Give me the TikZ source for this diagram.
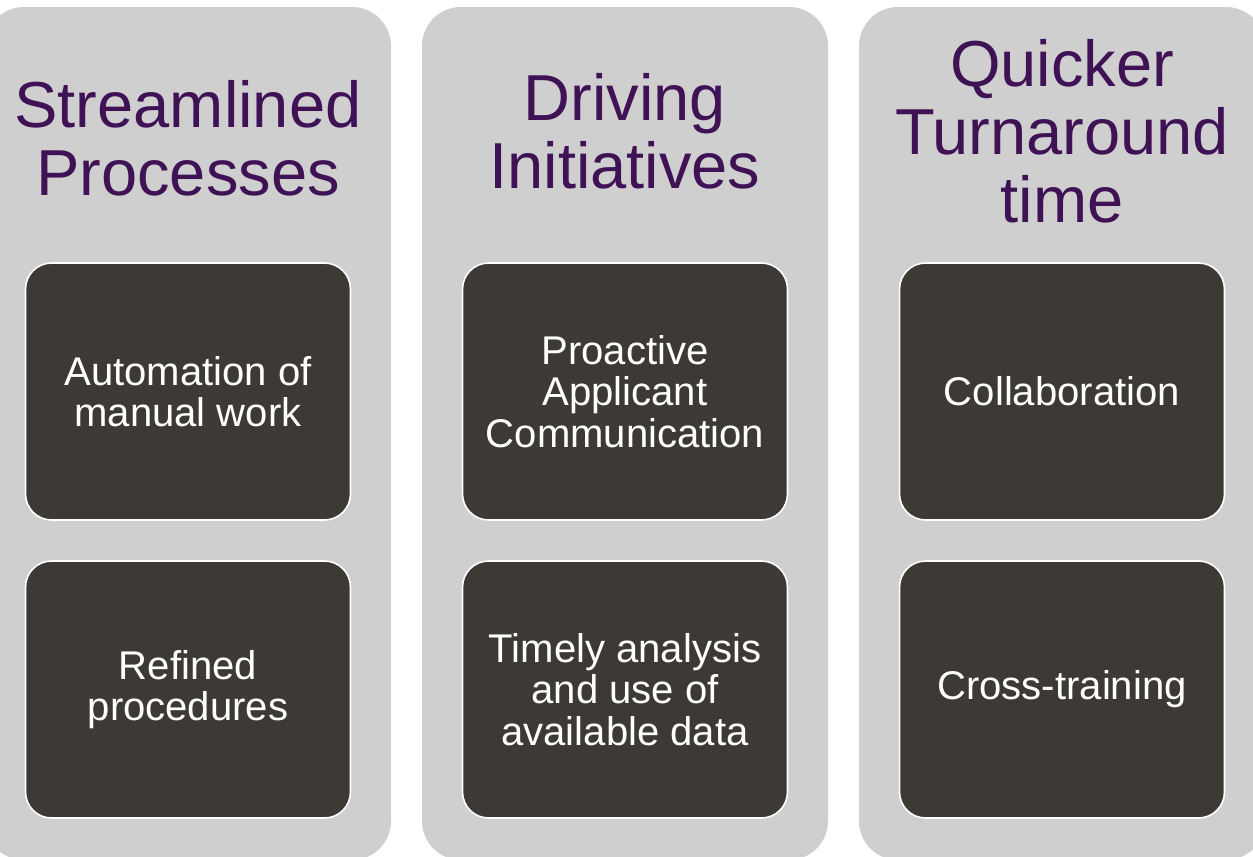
\documentclass[tikz,border=0pt]{standalone}
\usepackage{fontspec}
\setmainfont{Liberation Sans}
\definecolor{colgray}{HTML}{CFCFCF}
\definecolor{boxdark}{HTML}{3D3A35}
\definecolor{headpurple}{HTML}{3F1255}
\tikzset{
  column/.style={fill=colgray, rounded corners=0.78cm},
  head/.style={text=headpurple, align=center, inner sep=0pt,
    font=\fontsize{37}{38.7}\selectfont},
  item/.style={fill=boxdark, draw=white, line width=0.9pt,
    rounded corners=0.52cm, minimum width=6.5cm, minimum height=5.14cm,
    inner sep=0pt, text=white, align=center,
    font=\fontsize{22.8}{23.6}\selectfont}
}
\begin{document}
\begin{tikzpicture}[x=0.02cm,y=-0.02cm]
\useasboundingbox (0,0) rectangle (1253,856);
\clip (0,0) rectangle (1253,856);

% gray columns, cut at the page edges
\foreach \x in {188,625,1062}
  \fill[column] (\x-203,7) rectangle (\x+203,860);

% headings
\node[head] (streamlined) at (188,138)   {Streamlined\\Processes};
\node[head] (driving)     at (625,131.5) {Driving\\Initiatives};
\node[head] (quicker)     at (1062,131)  {Quicker\\Turnaround\\time};

% items
\node[item] (automation) at (188,391.5)  {Automation of\\manual work};
\node[item] (refined)    at (188,689.5)  {Refined\\procedures};
\node[item] (proactive)  at (625,391.5)  {Proactive\\Applicant\\Communication};
\node[item] (timely)     at (625,689.5)  {Timely analysis\\and use of\\available data};
\node[item] (collab)     at (1062,391.5) {Collaboration};
\node[item] (crosstrain) at (1062,689.5) {Cross-training};
\end{tikzpicture}
\end{document}
